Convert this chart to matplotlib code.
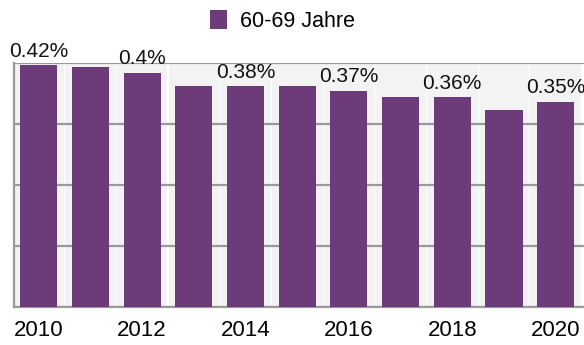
import matplotlib.pyplot as plt

years = [2010, 2011, 2012, 2013, 2014, 2015, 2016, 2017, 2018, 2019, 2020]
share = [0.416, 0.413, 0.403, 0.380, 0.380, 0.380, 0.372, 0.361, 0.361, 0.339, 0.353]
label_years = [2010, 2012, 2014, 2016, 2018, 2020]
series_name = "60-69 Jahre"

plt.rcParams['font.family'] = ['Liberation Sans', 'DejaVu Sans']

fig = plt.figure(figsize=(5.84, 3.45), dpi=100)
ax = fig.add_axes([0.024, 0.110, 0.976, 0.707])

# leichter Schatten hinter den Balken
ax.bar(years, [0.42] * len(years), width=0.98, color='#f3f3f3', zorder=0)
bars = ax.bar(years, share, width=0.72, color='#6e3b7a', zorder=3, label=series_name)

for yr, v in zip(years, share):
    if yr in label_years:
        ax.text(yr, v + 0.015, f"{round(v, 2):g}%", ha='center', va='baseline',
                fontsize=15, color='#111111', zorder=4)

ax.set_xlim(2009.52, 2020.55)
ax.set_ylim(0, 0.42)
ax.set_yticks([0, 0.105, 0.21, 0.315, 0.42])
ax.set_yticklabels([])
ax.set_xticks(label_years)
ax.tick_params(axis='both', length=0, labelsize=16, pad=9)
ax.grid(axis='y', color='#999999', linewidth=1.6, zorder=1)
ax.set_axisbelow(True)

for side in ['top', 'right']:
    ax.spines[side].set_visible(False)
ax.spines['left'].set_color('#999999')
ax.spines['left'].set_linewidth(1.6)
ax.spines['bottom'].set_color('#999999')
ax.spines['bottom'].set_linewidth(1.6)

fig.legend(handles=[bars], labels=[series_name], loc='center',
           bbox_to_anchor=(0.483, 0.94), frameon=False, fontsize=15.5,
           handlelength=0.8, handleheight=1.0, handletextpad=0.6)

fig.savefig('out.png', dpi=100)
